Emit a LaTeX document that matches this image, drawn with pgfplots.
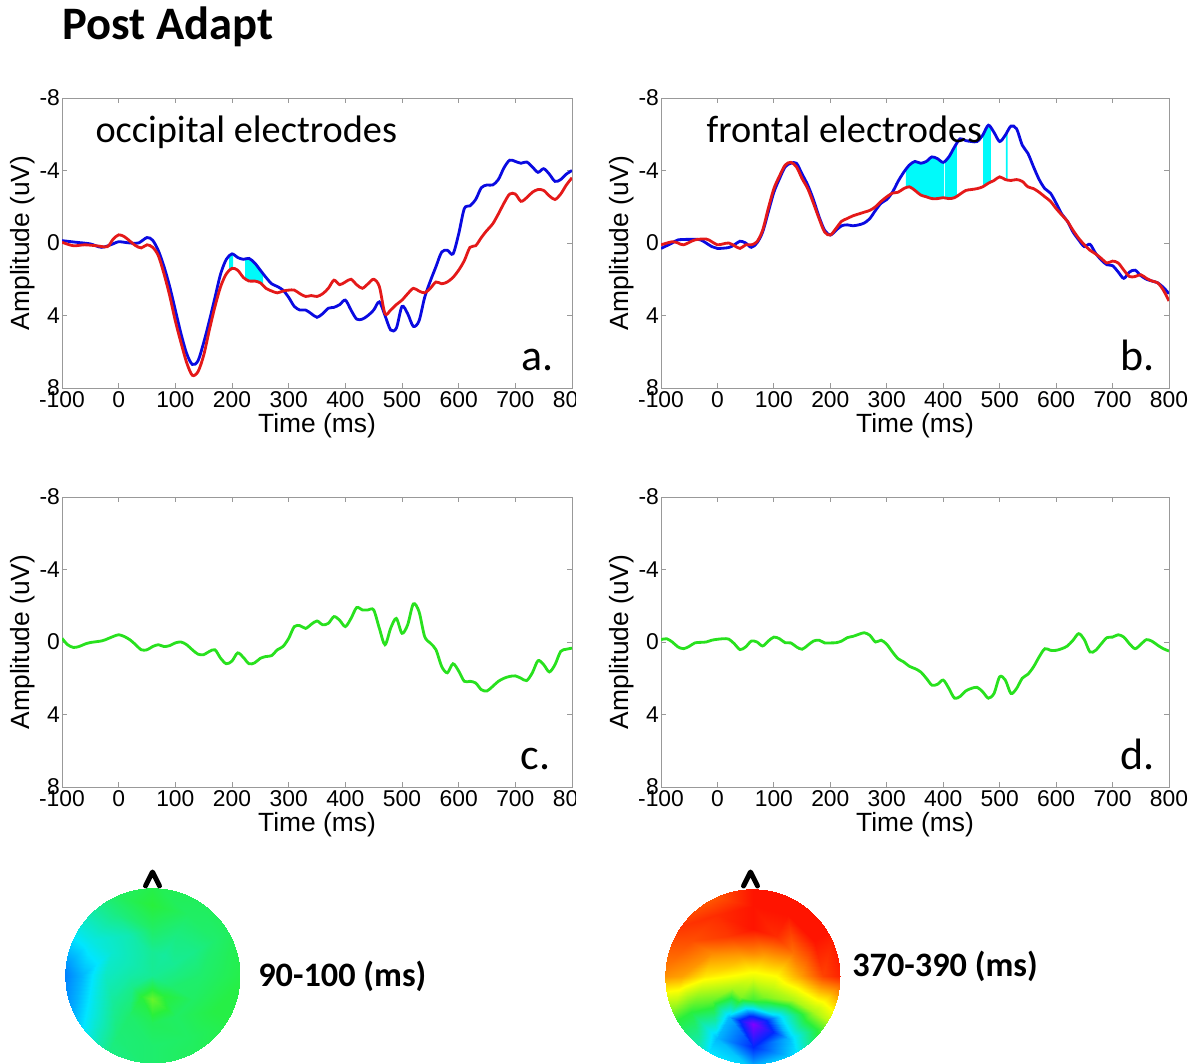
\documentclass[border=0pt]{standalone}
\usepackage{fontspec}
\setmainfont{Liberation Sans}
\newfontfamily\calibri{Carlito}
\usepackage{pgfplots}
\pgfplotsset{compat=1.18}
\definecolor{eblue}{RGB}{10,10,225}
\definecolor{ered}{RGB}{228,25,25}
\definecolor{egreen}{RGB}{40,225,30}
\definecolor{ecyan}{RGB}{0,250,250}
\pgfplotsset{
 colormap={headmap}{rgb255=(130,0,255) rgb255=(0,40,255) rgb255=(0,230,255) rgb255=(40,240,60) rgb255=(255,255,0) rgb255=(255,20,0)},
 erp/.style={
  scale only axis, height=5.8cm,
  xmin=-100, xmax=800, ymin=-8, ymax=8, y dir=reverse,
  xtick={-100,0,...,800}, ytick={-8,-4,0,4,8},
  tick align=inside, xtick pos=both, ytick pos=both,
  major tick length=0.1cm,
  axis line style={draw=black!40},
  tick style={draw=black!40, line width=0.5pt},
  /pgf/number format/assume math mode=true,
  ticklabel style={font=\fontsize{13}{15}\selectfont},
  yticklabel style={inner sep=1pt},
  xticklabel style={inner sep=2pt},
  label style={font=\fontsize{15}{17}\selectfont},
  xlabel={Time (ms)}, ylabel={Amplitude (uV)},
  xlabel style={at={(axis description cs:0.5,-0.13)}, anchor=center},
  ylabel style={at={(axis description cs:-0.078,0.5)}, anchor=center},
 },
 bl/.style={draw=eblue, line width=1.6pt, smooth, tension=0.5},
 rl/.style={draw=ered, line width=1.6pt, smooth, tension=0.5},
 gl/.style={draw=egreen, line width=1.6pt, smooth, tension=0.5},
 cf/.style={fill=ecyan, draw=none},
 head/.style={scale only axis, width=3.85cm, height=3.85cm, hide axis,
  xmin=-1.1, xmax=1.1, ymin=-1.1, ymax=1.1, view={0}{90},
  colormap name=headmap, point meta min=0, point meta max=1, anchor=center},
}
\begin{document}
\begin{tikzpicture}
\node[font=\calibri\bfseries\fontsize{26.5}{30}\selectfont, anchor=base west, inner sep=0pt] at (1.24,20.48) {Post Adapt};

% ---------- panel a ----------
\begin{scope}
\clip (0,12) rectangle (11.5,21.28);
\begin{axis}[erp, at={(1.24cm,13.52cm)}, anchor=south west, width=10.2cm]
\addplot[cf] coordinates {(195,0.72)(200,0.6)(202,0.62)(202,1.42)(200,1.4)(195,1.52)} -- cycle;
\addplot[cf] coordinates {(223,0.9)(230,0.85)(240,1.1)(250,1.5)(255,1.7)(255,2.35)(250,2.2)(240,2.1)(230,2.1)(223,1.97)} -- cycle;
\addplot[bl] coordinates {(-100,-0.13)(-75,-0.04)(-50,0.05)(-30,0.24)(-10,0.05)(0,-0.07)(20,0)(35,0)(50,-0.3)(60,-0.15)(70,0.42)(80,1.3)(90,2.4)(100,3.7)(110,5.0)(120,6.1)(130,6.7)(140,6.5)(150,5.5)(160,4.3)(170,3.0)(180,1.7)(190,0.9)(200,0.6)(210,0.8)(220,0.9)(230,0.85)(240,1.1)(250,1.5)(260,1.9)(270,2.25)(280,2.4)(290,2.6)(300,3.0)(310,3.5)(320,3.7)(330,3.7)(340,3.9)(350,4.1)(360,3.9)(370,3.6)(380,3.55)(390,3.4)(400,3.15)(410,3.7)(420,4.2)(430,4.2)(440,4.0)(450,3.7)(460,3.25)(470,4.0)(480,4.8)(490,4.7)(500,3.5)(510,3.9)(520,4.6)(530,4.3)(540,3.0)(550,2.1)(560,1.3)(570,0.5)(580,0.4)(590,0.6)(600,-0.5)(610,-1.9)(620,-2.05)(630,-2.4)(640,-3.05)(650,-3.2)(660,-3.2)(670,-3.5)(680,-4.15)(690,-4.57)(700,-4.5)(710,-4.4)(720,-4.47)(730,-4.2)(740,-3.9)(750,-4.1)(760,-3.8)(770,-3.4)(780,-3.5)(790,-3.8)(800,-4.0)};
\addplot[rl] coordinates {(-100,-0.04)(-80,0.15)(-60,0.1)(-40,0.15)(-20,0.2)(-10,-0.2)(0,-0.45)(10,-0.35)(20,-0.1)(30,0.15)(40,0.27)(50,0.1)(60,0.24)(70,0.7)(80,1.7)(90,2.9)(100,4.3)(110,5.5)(120,6.6)(130,7.3)(140,7.1)(150,6.2)(160,4.8)(170,3.5)(180,2.4)(190,1.7)(200,1.4)(210,1.5)(220,1.9)(230,2.1)(240,2.1)(250,2.2)(260,2.5)(270,2.65)(280,2.75)(290,2.65)(300,2.6)(310,2.6)(320,2.8)(330,2.95)(340,2.9)(350,2.95)(360,2.8)(370,2.5)(380,2.05)(390,2.3)(400,2.15)(410,2.0)(420,2.3)(430,2.5)(440,2.25)(450,2.0)(460,2.4)(470,3.9)(480,3.7)(490,3.4)(500,3.15)(510,2.8)(520,2.5)(530,2.65)(540,2.75)(550,2.5)(560,2.15)(570,2.25)(580,2.15)(590,1.9)(600,1.5)(610,0.97)(620,0.24)(630,0.15)(640,-0.3)(650,-0.7)(660,-1.05)(670,-1.6)(680,-2.2)(690,-2.7)(700,-2.7)(710,-2.3)(720,-2.5)(730,-2.8)(740,-2.95)(750,-2.9)(760,-2.6)(770,-2.4)(780,-2.7)(790,-3.2)(800,-3.6)};
\node[font=\calibri\fontsize{21.8}{24}\selectfont, anchor=base west, inner sep=0pt] at (axis description cs:0.065,0.848) {occipital electrodes};
\node[font=\calibri\fontsize{25}{28}\selectfont, anchor=base east, inner sep=0pt] at (axis description cs:0.965,0.062) {a.};
\end{axis}
\end{scope}

% ---------- panel b ----------
\begin{axis}[erp, at={(13.22cm,13.52cm)}, anchor=south west, width=10.16cm]
\addplot[cf] coordinates {(334,-4.06)(340,-4.3)(350,-4.5)(360,-4.4)(370,-4.5)(380,-4.75)(390,-4.65)(400,-4.45)(401,-4.48)(401,-2.5)(400,-2.5)(390,-2.45)(380,-2.45)(370,-2.55)(360,-2.65)(350,-2.9)(340,-3.1)(334,-3.04)} -- cycle;
\addplot[cf] coordinates {(403,-4.5)(410,-4.75)(420,-5.3)(424,-5.5)(424,-2.58)(420,-2.5)(410,-2.45)(403,-2.48)} -- cycle;
\addplot[cf] coordinates {(470.5,-5.98)(480,-6.5)(484.5,-6.3)(484.5,-3.37)(480,-3.3)(470.5,-3.11)} -- cycle;
\addplot[cf] coordinates {(511,-6.0)(514,-6.2)(514,-3.48)(511,-3.5)} -- cycle;
\addplot[bl] coordinates {(-100,0.3)(-80,0.0)(-70,-0.17)(-50,-0.2)(-30,-0.17)(-10,0.2)(0,0.3)(20,0.25)(30,0.1)(40,-0.1)(50,0.0)(60,0.24)(70,0.0)(80,-0.6)(90,-1.7)(100,-2.8)(110,-3.55)(120,-4.2)(130,-4.4)(140,-4.4)(150,-3.8)(160,-3.2)(170,-2.4)(180,-1.45)(190,-0.7)(200,-0.44)(210,-0.7)(220,-0.95)(230,-1.0)(240,-0.95)(250,-1.0)(260,-1.1)(270,-1.35)(280,-1.8)(290,-2.2)(300,-2.4)(310,-2.8)(320,-3.4)(330,-3.9)(340,-4.3)(350,-4.5)(360,-4.4)(370,-4.5)(380,-4.75)(390,-4.65)(400,-4.45)(410,-4.75)(420,-5.3)(430,-5.75)(440,-5.65)(450,-5.6)(460,-5.6)(470,-5.95)(480,-6.5)(490,-6.1)(500,-5.6)(510,-5.95)(520,-6.45)(530,-6.3)(540,-5.4)(550,-4.95)(560,-4.2)(570,-3.5)(580,-3.0)(590,-2.75)(600,-2.2)(610,-1.6)(620,-1.2)(630,-0.6)(640,-0.17)(650,0.2)(660,0.07)(670,0.57)(680,0.94)(690,1.2)(700,1.25)(710,1.6)(720,1.95)(730,1.6)(740,1.5)(750,1.8)(760,2.0)(770,2.1)(780,2.2)(790,2.45)(800,2.8)};
\addplot[rl] coordinates {(-100,0.1)(-80,-0.07)(-70,0.0)(-60,0.1)(-40,-0.17)(-20,-0.22)(-10,-0.07)(0,0.1)(10,0.05)(20,0.0)(30,0.15)(40,0.3)(50,0.1)(60,0.1)(70,-0.07)(80,-0.7)(90,-1.9)(100,-3.0)(110,-3.7)(120,-4.3)(130,-4.45)(140,-4.2)(150,-3.55)(160,-3.0)(170,-2.2)(180,-1.35)(190,-0.6)(200,-0.44)(210,-0.8)(220,-1.2)(230,-1.35)(240,-1.5)(250,-1.6)(260,-1.7)(270,-1.8)(280,-2.0)(290,-2.3)(300,-2.55)(310,-2.75)(320,-2.8)(330,-3.0)(340,-3.1)(350,-2.9)(360,-2.65)(370,-2.55)(380,-2.45)(390,-2.45)(400,-2.5)(410,-2.45)(420,-2.5)(430,-2.7)(440,-2.9)(450,-2.95)(460,-3.0)(470,-3.1)(480,-3.3)(490,-3.45)(500,-3.65)(510,-3.5)(520,-3.45)(530,-3.5)(540,-3.4)(550,-3.1)(560,-3.0)(570,-2.8)(580,-2.55)(590,-2.3)(600,-1.9)(610,-1.55)(620,-1.2)(630,-0.7)(640,-0.26)(650,0.1)(660,0.4)(670,0.6)(680,0.85)(690,1.1)(700,1.0)(710,1.1)(720,1.5)(730,1.85)(740,1.85)(750,1.75)(760,1.95)(770,2.1)(780,2.2)(790,2.6)(800,3.2)};
\node[font=\calibri\fontsize{21.8}{24}\selectfont, anchor=base west, inner sep=0pt] at (axis description cs:0.089,0.848) {frontal electrodes};
\node[font=\calibri\fontsize{25}{28}\selectfont, anchor=base east, inner sep=0pt] at (axis description cs:0.972,0.062) {b.};
\end{axis}

% ---------- panel c ----------
\begin{scope}
\clip (0,4) rectangle (11.5,12);
\begin{axis}[erp, at={(1.24cm,5.54cm)}, anchor=south west, width=10.2cm]
\addplot[gl] coordinates {(-100,-0.2)(-90,0.15)(-80,0.3)(-70,0.25)(-60,0.12)(-50,0.03)(-30,-0.06)(-20,-0.17)(-10,-0.3)(0,-0.4)(10,-0.3)(20,-0.12)(30,0.15)(40,0.43)(50,0.43)(60,0.25)(70,0.15)(80,0.25)(90,0.2)(100,0.05)(110,0.0)(120,0.15)(130,0.43)(140,0.67)(150,0.7)(160,0.52)(170,0.43)(180,0.9)(190,1.2)(200,1.05)(210,0.6)(220,0.85)(230,1.2)(240,1.15)(250,0.9)(260,0.8)(270,0.75)(280,0.43)(290,0.25)(300,-0.2)(310,-0.85)(320,-0.9)(330,-0.75)(340,-0.98)(350,-1.16)(360,-0.95)(370,-1.03)(380,-1.4)(390,-1.2)(400,-0.85)(410,-1.3)(420,-1.9)(430,-1.77)(440,-1.77)(450,-1.77)(460,-0.76)(470,0.15)(480,-0.76)(490,-1.3)(500,-0.48)(510,-0.95)(520,-2.1)(530,-1.68)(540,-0.3)(550,0.06)(560,0.43)(570,1.35)(580,1.7)(590,1.2)(600,1.6)(610,2.17)(620,2.17)(630,2.26)(640,2.63)(650,2.7)(660,2.45)(670,2.17)(680,2.0)(690,1.9)(700,1.87)(710,2.0)(720,2.13)(730,1.7)(740,1.03)(750,1.25)(760,1.65)(770,1.25)(780,0.52)(790,0.4)(800,0.34)};
\node[font=\calibri\fontsize{25}{28}\selectfont, anchor=base east, inner sep=0pt] at (axis description cs:0.958,0.062) {c.};
\end{axis}
\end{scope}

% ---------- panel d ----------
\begin{axis}[erp, at={(13.22cm,5.54cm)}, anchor=south west, width=10.16cm]
\addplot[gl] coordinates {(-100,-0.13)(-90,-0.18)(-80,0)(-70,0.27)(-60,0.37)(-50,0.24)(-40,0.05)(-30,0.02)(-20,0)(-10,-0.1)(0,-0.15)(10,-0.18)(20,-0.16)(30,0.1)(40,0.42)(50,0.27)(60,-0.05)(70,0)(80,0.22)(90,-0.05)(100,-0.27)(110,-0.18)(120,0.04)(130,0.05)(140,0.27)(150,0.4)(160,0.18)(170,-0.05)(180,-0.1)(190,0.05)(200,0.05)(210,0.04)(220,-0.05)(230,-0.24)(240,-0.31)(250,-0.42)(260,-0.51)(270,-0.37)(280,0)(290,-0.1)(300,0.13)(310,0.55)(320,0.92)(330,1.1)(340,1.34)(350,1.47)(360,1.65)(370,2.0)(380,2.38)(390,2.33)(400,2.1)(410,2.56)(420,3.1)(430,3.0)(440,2.7)(450,2.56)(460,2.5)(470,2.75)(480,3.1)(490,2.84)(500,1.92)(510,2.1)(520,2.84)(530,2.56)(540,2.0)(550,1.78)(560,1.37)(570,0.82)(580,0.37)(590,0.46)(600,0.46)(610,0.37)(620,0.22)(630,-0.1)(640,-0.46)(650,-0.13)(660,0.55)(670,0.46)(680,0.1)(690,-0.24)(700,-0.27)(710,-0.4)(720,-0.27)(730,0.1)(740,0.37)(750,0.13)(760,-0.13)(770,-0.04)(780,0.18)(790,0.37)(800,0.5)};
\node[font=\calibri\fontsize{25}{28}\selectfont, anchor=base east, inner sep=0pt] at (axis description cs:0.972,0.062) {d.};
\end{axis}

% ---------- head maps ----------
\begin{scope}
\clip (3.05,1.77) circle (1.75);
\begin{axis}[head, at={(3.05cm,1.77cm)}]
\addplot3[surf, shader=interp, mesh/rows=5, mesh/cols=13, point meta=z] table {
x y z
0 0 0.51
0 0 0.51
0 0 0.51
0 0 0.51
0 0 0.51
0 0 0.51
0 0 0.51
0 0 0.51
0 0 0.51
0 0 0.51
0 0 0.51
0 0 0.51
0 0 0.51
0.27 0 0.53
0.234 0.135 0.51
0.135 0.234 0.50
0 0.27 0.51
-0.135 0.234 0.49
-0.234 0.135 0.48
-0.27 0 0.49
-0.234 -0.135 0.52
-0.135 -0.234 0.60
0 -0.27 0.66
0.135 -0.234 0.60
0.234 -0.135 0.55
0.27 0 0.53
0.54 0 0.55
0.468 0.27 0.52
0.27 0.468 0.53
0 0.54 0.56
-0.27 0.468 0.48
-0.468 0.27 0.45
-0.54 0 0.46
-0.468 -0.27 0.50
-0.27 -0.468 0.55
0 -0.54 0.57
0.27 -0.468 0.56
0.468 -0.27 0.56
0.54 0 0.55
0.81 0 0.57
0.701 0.405 0.55
0.405 0.701 0.56
0 0.81 0.60
-0.405 0.701 0.53
-0.701 0.405 0.43
-0.81 0 0.35
-0.701 -0.405 0.42
-0.405 -0.701 0.54
0 -0.81 0.55
0.405 -0.701 0.56
0.701 -0.405 0.59
0.81 0 0.57
1.08 0 0.59
0.935 0.54 0.57
0.54 0.935 0.57
0 1.08 0.58
-0.54 0.935 0.55
-0.935 0.54 0.42
-1.08 0 0.27
-0.935 -0.54 0.34
-0.54 -0.935 0.52
0 -1.08 0.55
0.54 -0.935 0.57
0.935 -0.54 0.59
1.08 0 0.59
};
\end{axis}
\end{scope}

\begin{scope}
\clip (15.05,1.75) circle (1.75);
\begin{axis}[head, at={(15.05cm,1.75cm)}]
\addplot3[surf, shader=interp, mesh/rows=5, mesh/cols=13, point meta=z] table {
x y z
0 0 0.78
0 0 0.78
0 0 0.78
0 0 0.78
0 0 0.78
0 0 0.78
0 0 0.78
0 0 0.78
0 0 0.78
0 0 0.78
0 0 0.78
0 0 0.78
0 0 0.78
0.27 0 0.80
0.234 0.135 0.85
0.135 0.234 0.88
0 0.27 0.90
-0.135 0.234 0.88
-0.234 0.135 0.85
-0.27 0 0.80
-0.234 -0.135 0.72
-0.135 -0.234 0.68
0 -0.27 0.62
0.135 -0.234 0.68
0.234 -0.135 0.74
0.27 0 0.80
0.54 0 0.88
0.468 0.27 0.92
0.27 0.468 0.98
0 0.54 1.0
-0.27 0.468 0.97
-0.468 0.27 0.90
-0.54 0 0.82
-0.468 -0.27 0.66
-0.27 -0.468 0.35
0 -0.54 0.0
0.27 -0.468 0.35
0.468 -0.27 0.72
0.54 0 0.88
0.81 0 0.96
0.701 0.405 1.0
0.405 0.701 1.0
0 0.81 1.0
-0.405 0.701 0.98
-0.701 0.405 0.95
-0.81 0 0.88
-0.701 -0.405 0.60
-0.405 -0.701 0.35
0 -0.81 0.20
0.405 -0.701 0.35
0.701 -0.405 0.72
0.81 0 0.96
1.08 0 1.0
0.935 0.54 1.0
0.54 0.935 1.0
0 1.08 1.0
-0.54 0.935 0.93
-0.935 0.54 0.97
-1.08 0 0.90
-0.935 -0.54 0.60
-0.54 -0.935 0.42
0 -1.08 0.38
0.54 -0.935 0.42
0.935 -0.54 0.75
1.08 0 1.0
};
\end{axis}
\end{scope}

\draw[line width=2.8pt, line cap=round, line join=round] (2.91,3.56) -- (3.05,3.84) -- (3.19,3.56);
\draw[line width=2.8pt, line cap=round, line join=round] (14.87,3.56) -- (15.01,3.84) -- (15.15,3.56);
\node[font=\calibri\bfseries\fontsize{19.5}{22}\selectfont, anchor=base west, inner sep=0pt] at (5.16,1.54) {90-100 (ms)};
\node[font=\calibri\bfseries\fontsize{19.5}{22}\selectfont, anchor=base west, inner sep=0pt] at (17.04,1.74) {370-390 (ms)};
\pgfresetboundingbox
\path[use as bounding box] (0,0) rectangle (23.86,21.28);
\end{tikzpicture}
\end{document}
